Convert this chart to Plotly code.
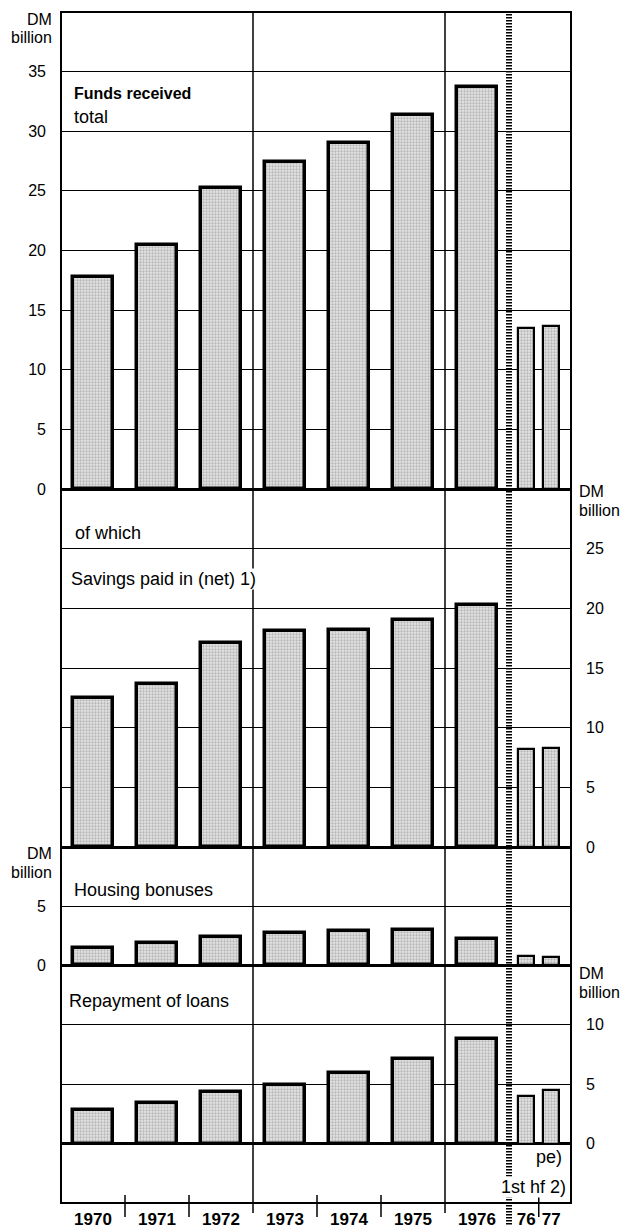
import plotly.graph_objects as go

# ---------------- data (DM billion) ----------------
periods = ["1970", "1971", "1972", "1973", "1974", "1975", "1976", "76", "77"]
funds_total = [17.8, 20.5, 25.2, 27.4, 29.0, 31.4, 33.7, 13.5, 13.7]
savings_net = [12.5, 13.7, 17.1, 18.1, 18.2, 19.0, 20.3, 8.2, 8.3]
housing_bonuses = [1.4, 1.9, 2.4, 2.7, 2.9, 3.0, 2.2, 0.8, 0.7]
loan_repayment = [2.8, 3.4, 4.3, 4.9, 5.9, 7.1, 8.8, 4.0, 4.5]

# ---------------- geometry ----------------
W, H = 623, 1230
L, R, T, B = 61, 52, 12, 27
PW, PH = W - L - R, H - T - B
SLOT = 64.0  # pixels per annual slot


def py(Y):
    return (H - B - Y) / PH


def px(X):
    return (X - L) / PW


n_years = 7
x_pos = [i + 0.5 for i in range(n_years)] + [n_years + 0.27, n_years + 0.66]
widths = [0.625] * n_years + [0.25] * 2
line_w = [3.5] * n_years + [2.2] * 2

FONT = "Liberation Sans, Arial, Helvetica, sans-serif"

fig = go.Figure()

series = [(funds_total, "y"), (savings_net, "y2"), (housing_bonuses, "y3"), (loan_repayment, "y4")]
for vals, ax in series:
    fig.add_trace(go.Bar(
        x=x_pos, y=vals, width=widths, yaxis=ax, xaxis="x",
        marker=dict(
            color="#dcdcdc",
            line=dict(color="black", width=line_w),
            pattern=dict(shape=".", fgcolor="#8a8a8a", bgcolor="#e4e4e4", size=3, solidity=0.45),
        ),
        hoverinfo="skip", showlegend=False,
    ))

axis_common = dict(
    showgrid=True, gridcolor="black", gridwidth=1.3,
    zeroline=True, zerolinecolor="black", zerolinewidth=2.5,
    showline=False, ticks="", anchor="x", automargin=False,
    tickfont=dict(family=FONT, size=16, color="black"),
    ticklabelstandoff=14, fixedrange=True,
)

fig.update_layout(
    width=W, height=H,
    margin=dict(l=L, r=R, t=T, b=B, autoexpand=False),
    paper_bgcolor="white", plot_bgcolor="white",
    bargap=0, barmode="overlay",
    xaxis=dict(
        range=[0, PW / SLOT], anchor="y4", automargin=False,
        tickvals=x_pos, ticktext=periods, ticks="",
        showgrid=False, zeroline=False, showline=False,
        tickfont=dict(family=FONT, size=17, color="black", weight="bold"),
        ticklabelstandoff=4, fixedrange=True,
    ),
    yaxis=dict(domain=[py(489), 1], range=[0, 40], tickvals=[0, 5, 10, 15, 20, 25, 30, 35],
               side="left", **axis_common),
    yaxis2=dict(domain=[py(847), py(489)], range=[0, 30], tickvals=[0, 5, 10, 15, 20, 25],
                side="right", **axis_common),
    yaxis3=dict(domain=[py(965), py(847)], range=[0, 10], tickvals=[0, 5],
                side="left", **axis_common),
    yaxis4=dict(domain=[0, py(965)], range=[-5, 15], tickvals=[0, 5, 10],
                side="right", **axis_common),
)

shapes = []
# outer frame
shapes.append(dict(type="rect", xref="paper", yref="paper", x0=0, x1=1, y0=0, y1=1,
                   line=dict(color="black", width=2)))
# full-height separators
for xs in (3, 6):
    shapes.append(dict(type="line", xref="x", yref="paper", x0=xs, x1=xs, y0=1, y1=py(1213),
                       line=dict(color="black", width=1.5)))
# short separators between year labels
for xs in (1, 2, 4, 5, (x_pos[7] + x_pos[8]) / 2):
    shapes.append(dict(type="line", xref="x", yref="paper", x0=xs, x1=xs, y0=py(1195), y1=py(1217),
                       line=dict(color="black", width=1.5)))
# hatched break between annual and half-year data
shapes.append(dict(type="line", xref="x", yref="paper", x0=n_years, x1=n_years, y0=py(14), y1=py(1226),
                   line=dict(color="black", width=6, dash="1.5px,1.5px")))
fig.update_layout(shapes=shapes)

ann = []


def text(t, X, Y, xanchor="left", size=18, bg=None, bold=False):
    d = dict(text=t, xref="paper", yref="paper", x=px(X), y=py(Y), xanchor=xanchor, yanchor="middle",
             showarrow=False, font=dict(family=FONT, size=size, color="black",
                                        weight="bold" if bold else "normal"))
    if bg:
        d["bgcolor"] = bg
        d["borderpad"] = 0
    ann.append(d)


text("DM", 54, 20, "right", 16)
text("billion", 54, 37, "right", 16)
text("Funds received", 72, 94, size=16, bold=True)
text("total", 72, 117, size=18)
text("of which", 73, 533)
text("Savings paid in (net) 1)", 70, 579, bg="white")
text("DM", 577, 492, "left", 16)
text("billion", 577, 510, "left", 16)
text("DM", 54, 853, "right", 16)
text("billion", 54, 872, "right", 16)
text("Housing bonuses", 72, 890)
text("DM", 577, 973, "left", 16)
text("billion", 577, 992, "left", 16)
text("Repayment of loans", 67, 1001)
text("pe)", 564, 1157, "right")
text("1st hf 2)", 567, 1187, "right", bg="white")
fig.update_layout(annotations=ann)

fig.write_html("out.html", config={"displayModeBar": False},
               post_script="document.body.style.margin='0';")
